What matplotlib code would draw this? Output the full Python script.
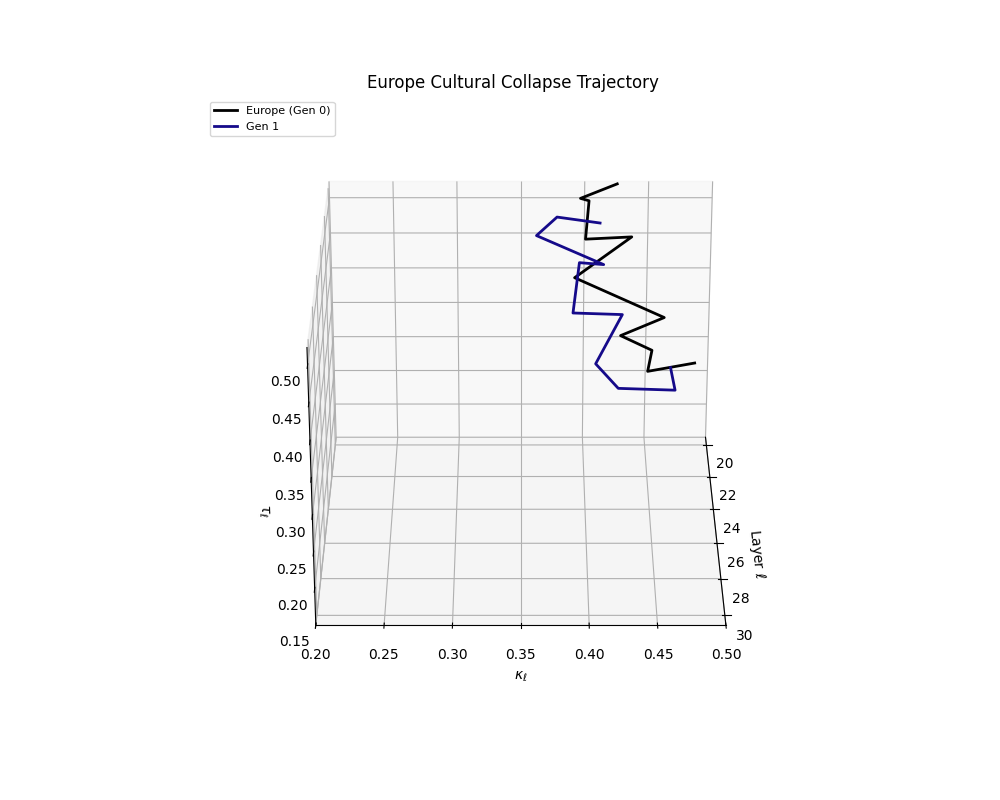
import matplotlib
matplotlib.use('Agg')
import matplotlib.pyplot as plt

layers = list(range(20, 31))
kappa_g0 = [0.425, 0.396, 0.402, 0.399, 0.433, 0.39, 0.456, 0.423, 0.445, 0.441, 0.473]
j_g0 = [0.529, 0.528, 0.544, 0.511, 0.534, 0.499, 0.466, 0.463, 0.465, 0.459, 0.492]
kappa_g1 = [0.412, 0.378, 0.362, 0.413, 0.394, 0.389, 0.425, 0.405, 0.421, 0.461, 0.456]
j_g1 = [0.474, 0.502, 0.496, 0.476, 0.499, 0.451, 0.470, 0.425, 0.414, 0.434, 0.486]

fig = plt.figure(figsize=(10, 8))
ax = fig.add_subplot(111, projection='3d')
ax.plot(layers, kappa_g0, j_g0, color='black', lw=2, label='Europe (Gen 0)')
ax.plot(layers, kappa_g1, j_g1, color='#150a8a', lw=2, label='Gen 1')
ax.set_xlim(19.5, 30.5)
ax.set_ylim(0.2, 0.5)
ax.set_zlim(0.15, 0.523)
ax.set_xlabel(r'Layer $\ell$')
ax.set_ylabel(r'$\kappa_\ell$')
ax.set_zlabel(r'$\tau_\ell$')
ax.set_title('Europe Cultural Collapse Trajectory')
ax.view_init(elev=26.5, azim=0)
ax.legend(loc='upper left', fontsize=8)
fig.savefig('out.png', dpi=100)
